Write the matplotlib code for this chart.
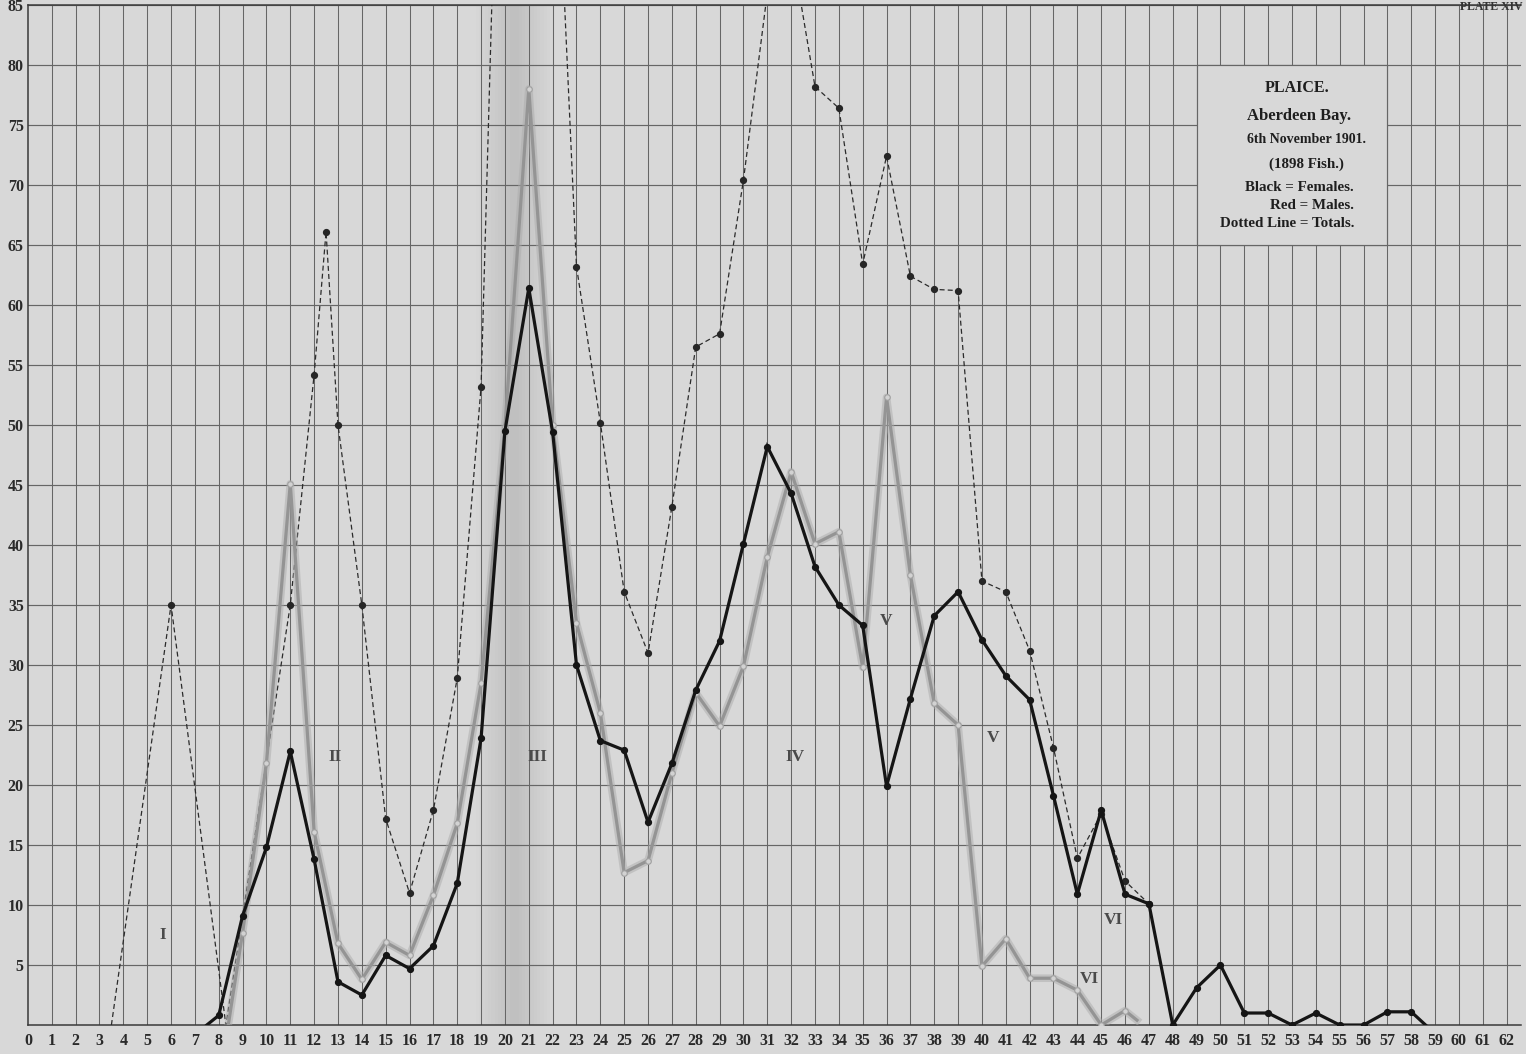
"""Plaice, Aberdeen Bay, 6th November 1901 - length frequency plate (recreation)."""

import matplotlib
matplotlib.use("Agg")
import matplotlib.pyplot as plt
from matplotlib.patches import Rectangle
import numpy as np

# ── data ─────────────────────────────────────────────────────────────────────

female_x = [7.5, 8, 9, 10, 11, 12, 13, 14, 15, 16, 17, 18, 19, 20, 21, 22, 23,
            24, 25, 26, 27, 28, 29, 30, 31, 32, 33, 34, 35, 36, 37, 38, 39, 40,
            41, 42, 43, 44, 45, 46, 47, 48, 49, 50, 51, 52, 53, 54, 55, 56, 57,
            58, 58.6]
female_y = [0, 0.8, 9.1, 14.8, 22.8, 13.8, 3.6, 2.5, 5.8, 4.7, 6.6, 11.8, 23.9,
            49.5, 61.4, 49.4, 30.0, 23.7, 22.9, 16.9, 21.8, 27.9, 32.0, 40.1,
            48.2, 44.3, 38.2, 35.0, 33.3, 19.9, 27.2, 34.1, 36.1, 32.1, 29.1,
            27.1, 19.1, 10.9, 17.9, 10.9, 10.1, 0, 3.1, 5.0, 1.0, 1.0, 0, 1.0,
            0, 0, 1.1, 1.1, 0]

male_x = [8.4, 9, 10, 11, 12, 13, 14, 15, 16, 17, 18, 19, 20, 21, 22, 23, 24,
          25, 26, 27, 28, 29, 30, 31, 32, 33, 34, 35, 36, 37, 38, 39, 40, 41,
          42, 43, 44, 45, 46, 46.5]
male_y = [0, 7.7, 21.8, 45.1, 16.1, 6.8, 3.8, 6.9, 5.8, 10.8, 16.8, 28.5, 49.8,
          78.0, 50.0, 33.5, 26.0, 12.7, 13.7, 21.0, 27.7, 24.9, 29.9, 39.0,
          46.1, 40.1, 41.1, 29.8, 52.3, 37.5, 26.8, 25.0, 4.9, 7.2, 3.9, 3.9,
          2.9, 0.0, 1.2, 0.4]

total_x = [3.5, 6, 8.3, 11, 12, 12.5, 13, 14, 15, 16, 17, 18, 19, 20, 21, 22,
           23, 24, 25, 26, 27, 28, 29, 30, 31, 32, 33, 34, 35, 36, 37, 38, 39,
           40, 41, 42, 43, 44, 45, 46, 47]
total_y = [0, 35, 0, 35, 54.2, 66.1, 50.0, 35.0, 17.2, 11.0, 17.9, 28.9, 53.2,
           124, 150, 107, 63.2, 50.2, 36.1, 31.0, 43.2, 56.5, 57.6, 70.4, 86,
           90, 78.2, 76.4, 63.4, 72.4, 62.4, 61.3, 61.2, 37.0, 36.1, 31.2,
           23.1, 13.9, 17.6, 12.0, 10.1]

# Roman numeral group labels
group_labels = ["I", "II", "III", "IV", "V", "V", "VI", "VI"]
group_x = [5.66, 12.87, 21.34, 32.16, 36.0, 40.46, 45.5, 44.5]
group_y = [7.5, 22.3, 22.3, 22.3, 33.7, 23.9, 8.75, 3.8]

title_lines = ["PLAICE.", "Aberdeen Bay.", "6th November 1901.", "(1898 Fish.)"]
key_lines = ["Black = Females.", "Red = Males.", "Dotted Line = Totals."]

x_ticks = list(range(0, 63))
y_ticks = list(range(5, 90, 5))

# ── style ────────────────────────────────────────────────────────────────────

PAPER = "#d8d8d8"
GRID = "#666666"
SERIF = ["Liberation Serif", "DejaVu Serif"]

fig = plt.figure(figsize=(15.26, 10.54), dpi=100, facecolor=PAPER)
ax = fig.add_axes([0.0183, 0.0275, 0.9784, 0.9678])
ax.set_facecolor(PAPER)
ax.set_xlim(0, 62.6)
ax.set_ylim(0, 85)

# soft shading where the plate crosses the book fold (centre ~20.4)
for w in np.linspace(1.6, 0.2, 12):
    ax.axvspan(20.4 - w, 20.4 + w, color="black", alpha=0.007, lw=0, zorder=0)

# graph-paper grid
for xv in range(1, 63):
    ax.axvline(xv, color=GRID, lw=0.75, zorder=1)
for yv in y_ticks:
    ax.axhline(yv, color=GRID, lw=0.85, zorder=1)

ax.spines["right"].set_visible(False)
for side in ["left", "bottom", "top"]:
    ax.spines[side].set_color("#3a3a3a")
    ax.spines[side].set_linewidth(1.1)

ax.set_xticks(x_ticks)
ax.set_yticks(y_ticks)
ax.set_xticklabels([str(v) for v in x_ticks], family=SERIF, weight="bold",
                   fontsize=11.5, color="#2a2a2a")
ax.set_yticklabels([str(v) for v in y_ticks], family=SERIF, weight="bold",
                   fontsize=11.5, color="#2a2a2a")
ax.tick_params(axis="both", length=0)
ax.tick_params(axis="x", pad=6)
ax.tick_params(axis="y", pad=3)

# ── curves ───────────────────────────────────────────────────────────────────

tx = np.array(total_x)
ty = np.array(total_y)
ax.plot(tx, ty, color="#2b2b2b", lw=0.9, ls=(0, (4, 2.5)), zorder=3)
mk = (ty > 0) & (ty < 85)
ax.plot(tx[mk], ty[mk], ls="none", marker="o", ms=4.2, color="#262626", zorder=4)

# males: a soft grey band (printed red on the original plate)
ax.plot(male_x, male_y, color="#ababab", lw=5.5, alpha=0.5, zorder=3,
        solid_joinstyle="round")
ax.plot(male_x, male_y, color="#949494", lw=2.3, zorder=3,
        solid_joinstyle="round")
ax.plot(male_x[1:-1], male_y[1:-1], ls="none", marker="o", ms=4,
        mfc="#d2d2d2", mec="#a0a0a0", mew=0.8, zorder=3)

ax.plot(female_x, female_y, color="#151515", lw=2.3, zorder=5,
        solid_joinstyle="miter")
ax.plot(female_x[1:-1], female_y[1:-1], ls="none", marker="o", ms=4.2,
        color="#151515", zorder=5)

# ── annotations ──────────────────────────────────────────────────────────────

for lab, gx, gy in zip(group_labels, group_x, group_y):
    ax.text(gx, gy, lab, ha="center", va="center", family=SERIF,
            weight="bold", fontsize=12.5, color="#4a4a4a", zorder=6)

# key box blanks out the grid behind it
ax.add_patch(Rectangle((49, 65), 8, 15, facecolor=PAPER, edgecolor=GRID,
                       lw=0.85, zorder=2))

title_pos = [(53.2, 78.1), (53.3, 75.75), (53.6, 73.75), (53.6, 71.75)]
title_size = [11.5, 12, 10, 10.8]
for txt, (kx, ky), fs in zip(title_lines, title_pos, title_size):
    ax.text(kx, ky, txt, ha="center", va="center", family=SERIF,
            weight="bold", fontsize=fs, color="#1e1e1e", zorder=6)

key_y = [69.8, 68.25, 66.75]
for txt, ky in zip(key_lines, key_y):
    ax.text(55.6, ky, txt, ha="right", va="center", family=SERIF,
            weight="bold", fontsize=10.8, color="#1e1e1e", zorder=6)

fig.text(0.977, 0.9995, "PLATE XIV", ha="center", va="top", family=SERIF,
         weight="bold", fontsize=8.5, color="#333333")

fig.savefig("out.png", dpi=100, facecolor=PAPER)
